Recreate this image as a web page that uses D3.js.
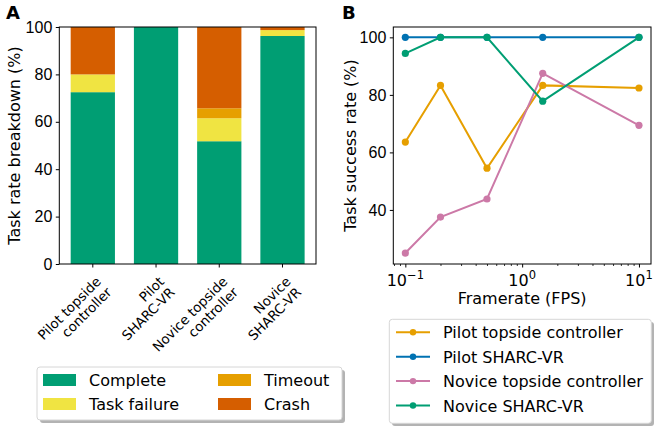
<!DOCTYPE html>
<html>
<head>
<meta charset="utf-8">
<script src="https://cdn.jsdelivr.net/npm/d3@7"></script>
<style>
    body { margin: 0; background: #fff; }
    svg { font-family: 'DejaVu Sans', sans-serif; }
</style>
</head>
<body>
<svg id="chart" width="654" height="428"></svg>
<script>
// panel A data: task outcome breakdown (%)
var groups = ["Pilot topside controller", "Pilot SHARC-VR", "Novice topside controller", "Novice SHARC-VR"];
var groupLines = [["Pilot topside", "controller"], ["Pilot", "SHARC-VR"], ["Novice topside", "controller"], ["Novice", "SHARC-VR"]];
var outcomes = ["Complete", "Task failure", "Timeout", "Crash"];
var outcomeColors = ["#009e73", "#f0e442", "#e69f00", "#d55e00"];
var complete = [72.5, 100, 51.8, 96.2];
var taskFailure = [7.5, 0, 9.7, 2.5];
var timeout = [0, 0, 4.2, 0];
var crash = [20, 0, 34.3, 1.3];
var breakdownTicks = [0, 20, 40, 60, 80, 100];

// panel B data: success rate vs framerate
var framerates = [0.1, 0.2, 0.5, 1.5, 10];
var seriesNames = ["Pilot topside controller", "Pilot SHARC-VR", "Novice topside controller", "Novice SHARC-VR"];
var seriesColors = ["#e69f00", "#0072b2", "#cc79a7", "#009e73"];
var pilotTopside = [63.6, 83.3, 54.5, 83.3, 82.4];
var pilotSharc = [100, 100, 100, 100, 100];
var noviceTopside = [25, 37.5, 43.8, 87.5, 69.4];
var noviceSharc = [94.4, 100, 100, 77.8, 100];
var successTicks = [40, 60, 80, 100];

var svg = d3.select("#chart");
var fs = 16;

// ---------- panel A ----------
var axA = {left: 59.3, right: 316, top: 27, bottom: 264};

var xA = d3.scaleBand().domain(groups).range([axA.left, axA.right])
    .paddingInner(0.3).paddingOuter(0.18);
var yA = d3.scaleLinear().domain([0, 100]).range([axA.bottom, axA.top]);

var table = groups.map(function(g, i) {
    return {group: g, "Complete": complete[i], "Task failure": taskFailure[i], "Timeout": timeout[i], "Crash": crash[i]};
});
var stacked = d3.stack().keys(outcomes)(table);

var gA = svg.append("g");
gA.selectAll(".layer")
    .data(stacked)
    .enter().append("g")
    .attr("fill", function(d, i) { return outcomeColors[i]; })
    .selectAll("rect")
    .data(function(d) { return d; })
    .enter().append("rect")
    .attr("x", function(d) { return xA(d.data.group); })
    .attr("width", xA.bandwidth())
    .attr("y", function(d) { return yA(d[1]); })
    .attr("height", function(d) { return yA(d[0]) - yA(d[1]); });

var yAxisA = gA.append("g")
    .attr("transform", "translate(" + axA.left + ",0)")
    .call(d3.axisLeft(yA).tickValues(breakdownTicks).tickSize(3.5).tickPadding(3.5).tickSizeOuter(0));
yAxisA.select(".domain").remove();
yAxisA.selectAll("text").style("font-size", fs + "px").attr("fill", "#000");

var xAxisA = gA.append("g")
    .attr("transform", "translate(0," + axA.bottom + ")")
    .call(d3.axisBottom(xA).tickSize(3.5).tickSizeOuter(0).tickFormat(""));
xAxisA.select(".domain").remove();

// rotated two-line category labels
groups.forEach(function(g, i) {
    var cx = xA(g) + xA.bandwidth() / 2;
    var t = gA.append("text")
        .attr("transform", "translate(" + (cx + 9) + ",282.5) rotate(-45)")
        .attr("text-anchor", "end")
        .style("font-size", "13.4px");
    groupLines[i].forEach(function(line, j) {
        t.append("tspan").attr("x", 0).attr("dy", j === 0 ? 0 : 15).text(line);
    });
});

gA.append("rect")
    .attr("x", axA.left).attr("y", axA.top)
    .attr("width", axA.right - axA.left).attr("height", axA.bottom - axA.top)
    .attr("fill", "none").attr("stroke", "#000").attr("stroke-width", 1);

gA.append("text")
    .attr("transform", "translate(20," + ((axA.top + axA.bottom) / 2) + ") rotate(-90)")
    .attr("text-anchor", "middle")
    .style("font-size", fs + "px")
    .text("Task rate breakdown (%)");

svg.append("text").attr("x", 6).attr("y", 19)
    .style("font-size", "18px").style("font-weight", "bold").text("A");

// legend A
var legA = svg.append("g");
legA.append("rect").attr("x", 40).attr("y", 370).attr("width", 305).attr("height", 53)
    .attr("rx", 3).attr("fill", "#b3b3b3");
legA.append("rect").attr("x", 37).attr("y", 367).attr("width", 305).attr("height", 53)
    .attr("rx", 3).attr("fill", "#fff").attr("stroke", "#d6d6d6");
outcomes.forEach(function(o, i) {
    var col = i < 2 ? 0 : 1, row = i % 2;
    var px = col === 0 ? 43 : 218;
    var cy = 380 + row * 24;
    legA.append("rect").attr("x", px).attr("y", cy - 6).attr("width", 33).attr("height", 12)
        .attr("fill", outcomeColors[i]);
    legA.append("text").attr("x", px + 46).attr("y", cy + 6)
        .style("font-size", fs + "px").text(o);
});

// ---------- panel B ----------
var axB = {left: 393.3, right: 651, top: 27, bottom: 264};
var xB = d3.scaleLog().domain([Math.pow(10, -1.103), Math.pow(10, 1.103)]).range([axB.left, axB.right]);
var yB = d3.scaleLinear().domain([21.2, 103.6]).range([axB.bottom, axB.top]);

var gB = svg.append("g");
var yAxisB = gB.append("g")
    .attr("transform", "translate(" + axB.left + ",0)")
    .call(d3.axisLeft(yB).tickValues(successTicks).tickSize(3.5).tickPadding(3.5).tickSizeOuter(0));
yAxisB.select(".domain").remove();
yAxisB.selectAll("text").style("font-size", fs + "px").attr("fill", "#000");

var minorTicks = [];
[0.01, 0.1, 1, 10].forEach(function(dec) {
    for (var k = 2; k <= 9; k++) {
        var v = dec * k;
        if (v >= xB.domain()[0] && v <= xB.domain()[1]) minorTicks.push(v);
    }
});
var xMinor = gB.append("g")
    .attr("transform", "translate(0," + axB.bottom + ")")
    .call(d3.axisBottom(xB).tickValues(minorTicks).tickSize(2).tickFormat(""));
xMinor.select(".domain").remove();
xMinor.selectAll("line").attr("stroke-width", 0.8);

var majorTicks = [0.1, 1, 10], majorExp = ["\u22121", "0", "1"];
var xMajor = gB.append("g")
    .attr("transform", "translate(0," + axB.bottom + ")")
    .call(d3.axisBottom(xB).tickValues(majorTicks).tickSize(3.5).tickFormat(""));
xMajor.select(".domain").remove();
majorTicks.forEach(function(v, i) {
    var t = gB.append("text")
        .attr("x", xB(v)).attr("y", 286)
        .attr("text-anchor", "middle")
        .style("font-size", fs + "px");
    t.append("tspan").text("10");
    t.append("tspan").attr("dy", -7).style("font-size", "11.5px").text(majorExp[i]);
});

var seriesValues = [pilotTopside, pilotSharc, noviceTopside, noviceSharc];
var line = d3.line()
    .x(function(d) { return xB(d[0]); })
    .y(function(d) { return yB(d[1]); });

seriesValues.forEach(function(vals, s) {
    var pts = framerates.map(function(f, i) { return [f, vals[i]]; });
    gB.append("path").datum(pts)
        .attr("d", line)
        .attr("fill", "none")
        .attr("stroke", seriesColors[s])
        .attr("stroke-width", 2);
    gB.selectAll(".pt" + s).data(pts).enter().append("circle")
        .attr("cx", function(d) { return xB(d[0]); })
        .attr("cy", function(d) { return yB(d[1]); })
        .attr("r", 3.6)
        .attr("fill", seriesColors[s]);
});

gB.append("rect")
    .attr("x", axB.left).attr("y", axB.top)
    .attr("width", axB.right - axB.left).attr("height", axB.bottom - axB.top)
    .attr("fill", "none").attr("stroke", "#000").attr("stroke-width", 1);

gB.append("text")
    .attr("transform", "translate(356," + ((axB.top + axB.bottom) / 2) + ") rotate(-90)")
    .attr("text-anchor", "middle")
    .style("font-size", fs + "px")
    .text("Task success rate (%)");

gB.append("text")
    .attr("x", (axB.left + axB.right) / 2).attr("y", 304)
    .attr("text-anchor", "middle")
    .style("font-size", fs + "px")
    .text("Framerate (FPS)");

svg.append("text").attr("x", 342).attr("y", 19)
    .style("font-size", "18px").style("font-weight", "bold").text("B");

// legend B
var legB = svg.append("g");
legB.append("rect").attr("x", 392).attr("y", 322).attr("width", 262).attr("height", 104)
    .attr("rx", 3).attr("fill", "#b3b3b3");
legB.append("rect").attr("x", 389.3).attr("y", 319.3).attr("width", 262).attr("height", 104)
    .attr("rx", 3).attr("fill", "#fff").attr("stroke", "#d6d6d6");
seriesNames.forEach(function(n, i) {
    var cy = 332.3 + i * 24.4;
    legB.append("line").attr("x1", 396).attr("x2", 430).attr("y1", cy).attr("y2", cy)
        .attr("stroke", seriesColors[i]).attr("stroke-width", 2);
    legB.append("circle").attr("cx", 413).attr("cy", cy).attr("r", 3.2).attr("fill", seriesColors[i]);
    legB.append("text").attr("x", 443).attr("y", cy + 6)
        .style("font-size", fs + "px").text(n);
});
</script>
</body>
</html>
